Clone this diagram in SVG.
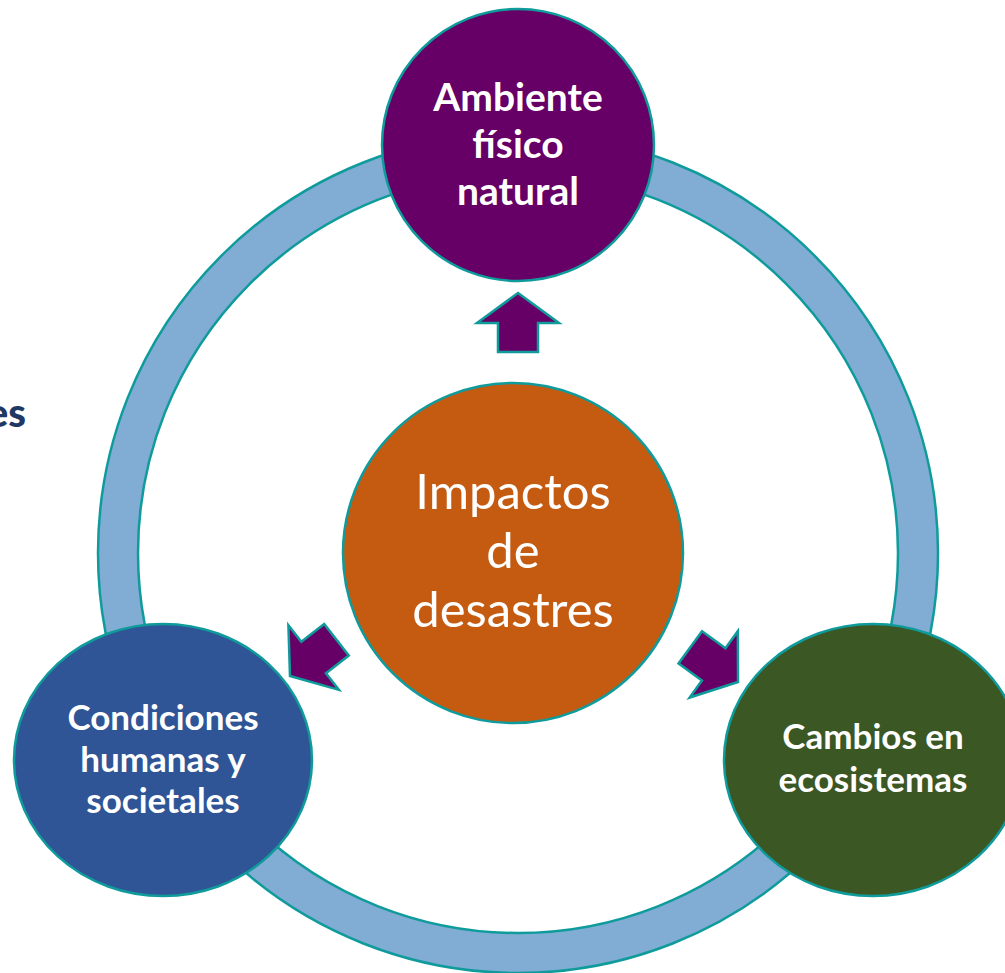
<svg xmlns="http://www.w3.org/2000/svg" width="1005" height="973" viewBox="0 0 1005 973">
<defs>
<style>
.edge{stroke:#0F9B9B;stroke-width:2.5}
.lbl{font-family:Lato,"Open Sans","Liberation Sans",sans-serif;fill:#FFFFFF;text-anchor:middle}
.bold{font-weight:bold;font-size:35px}
.top{font-size:39px}
.big{font-size:49px}
.arrow{fill:#660066;stroke:#0F9B9B;stroke-width:2.5;stroke-linejoin:miter}
</style>
<path id="arr" d="M0,0 L41,30 L20,30 L20,59 L-20,59 L-20,30 L-41,30 Z"/>
</defs>
<rect width="1005" height="973" fill="#FFFFFF"/>
<text x="26" y="427" text-anchor="end" font-family="Lato,'Liberation Sans',sans-serif" font-weight="900" font-size="40" fill="#1F3864">es</text>
<g id="ring">
<path d="M98,553 A420,420 0 1 0 938,553 A420,420 0 1 0 98,553 Z M138,553 A380,380 0 1 1 898,553 A380,380 0 1 1 138,553 Z" fill="#81ACD3" fill-rule="evenodd" class="edge" stroke-width="2"/>
</g>
<g id="connectors">
<use href="#arr" class="arrow" transform="translate(518,293)"/>
<use href="#arr" class="arrow" transform="translate(290,676) rotate(232)"/>
<use href="#arr" class="arrow" transform="translate(738,682) rotate(126)"/>
</g>
<g id="node-ambiente">
<circle cx="518" cy="145" r="136" fill="#660066" class="edge"/>
<text class="lbl bold top" x="518" y="111">Ambiente</text>
<text class="lbl bold top" x="518" y="158">físico</text>
<text class="lbl bold top" x="518" y="205">natural</text>
</g>
<g id="node-condiciones">
<ellipse cx="163" cy="760" rx="149" ry="136" fill="#2F5597" class="edge"/>
<text class="lbl bold" x="163" y="730">Condiciones</text>
<text class="lbl bold" x="163" y="772">humanas y</text>
<text class="lbl bold" x="163" y="813">societales</text>
</g>
<g id="node-cambios">
<ellipse cx="873" cy="760" rx="149" ry="136" fill="#3A5724" class="edge"/>
<text class="lbl bold" x="873" y="749">Cambios en</text>
<text class="lbl bold" x="873" y="792">ecosistemas</text>
</g>
<g id="node-impactos">
<circle cx="513" cy="553" r="170" fill="#C55A11" class="edge"/>
<text class="lbl big" x="513" y="509">Impactos</text>
<text class="lbl big" x="513" y="568">de</text>
<text class="lbl big" x="513" y="627">desastres</text>
</g>
</svg>
